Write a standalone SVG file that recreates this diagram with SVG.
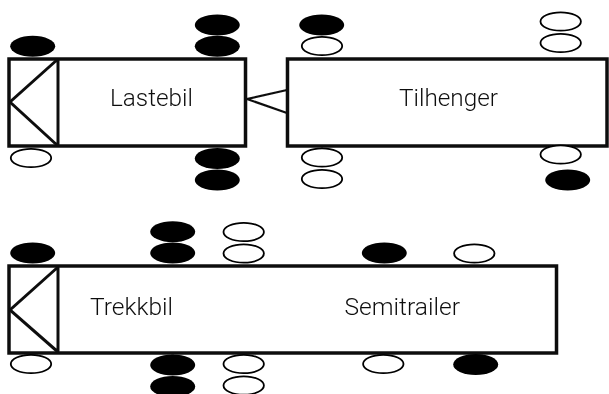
<svg xmlns="http://www.w3.org/2000/svg" width="609" height="394" viewBox="0 0 609 394">
<style>
.body{fill:#fff;stroke:#111;stroke-width:3.5}
.line{fill:none;stroke:#111;stroke-width:3}
.on{fill:#000;stroke:none}
.off{fill:#fff;stroke:#000;stroke-width:1.8}
.node,#connectors{filter:url(#soft)}
text{font-family:"Roboto","Liberation Sans",sans-serif;font-weight:300;font-size:24px;fill:#111}
</style>
<defs><filter id="soft" x="-5%" y="-5%" width="110%" height="110%"><feGaussianBlur stdDeviation="0.4"/></filter></defs>
<rect width="609" height="394" fill="#fff"/>
<g id="connectors">
<path class="line" style="stroke-width:2.2" d="M287 90 L247 99 L287 113"/>
</g>
<g id="lastebil" class="node">
<rect class="body" x="9" y="59" width="236.5" height="87"/>
<path class="line" d="M58 59 V146 M58 59 L10 102 L58 146"/>
<ellipse class="on" cx="32.7" cy="46.3" rx="22.5" ry="10.5"/>
<ellipse class="on" cx="217.3" cy="25" rx="22.5" ry="10.5"/>
<ellipse class="on" cx="217.3" cy="46.3" rx="22.5" ry="10.5"/>
<ellipse class="on" cx="217.3" cy="158.5" rx="22.5" ry="10.5"/>
<ellipse class="on" cx="217.3" cy="180" rx="22.5" ry="10.5"/>
<ellipse class="off" cx="31" cy="158" rx="20.2" ry="9.2"/>
<text x="110" y="106" textLength="83" lengthAdjust="spacingAndGlyphs">Lastebil</text>
</g>
<g id="tilhenger" class="node">
<rect class="body" x="287.5" y="59" width="319.5" height="87"/>
<ellipse class="on" cx="321.7" cy="25" rx="22.5" ry="10.5"/>
<ellipse class="off" cx="322" cy="46" rx="20.2" ry="9.2"/>
<ellipse class="off" cx="322" cy="157.5" rx="20.2" ry="9.2"/>
<ellipse class="off" cx="322" cy="179" rx="20.2" ry="9.2"/>
<ellipse class="off" cx="560.7" cy="21.5" rx="20.2" ry="9.2"/>
<ellipse class="off" cx="560.7" cy="43" rx="20.2" ry="9.2"/>
<ellipse class="off" cx="560.7" cy="154.5" rx="20.2" ry="9.2"/>
<ellipse class="on" cx="567.7" cy="180" rx="22.5" ry="10.5"/>
<text x="399" y="106" textLength="99" lengthAdjust="spacingAndGlyphs">Tilhenger</text>
</g>
<g id="trekkbil-semitrailer" class="node">
<rect class="body" x="9" y="266" width="547.5" height="87"/>
<path class="line" d="M58 266 V353 M58 267 L10 310 L58 352"/>
<ellipse class="on" cx="32.7" cy="253" rx="22.5" ry="10.5"/>
<ellipse class="on" cx="172.7" cy="231.7" rx="22.5" ry="10.5"/>
<ellipse class="on" cx="172.7" cy="253" rx="22.5" ry="10.5"/>
<ellipse class="on" cx="172.7" cy="365" rx="22.5" ry="10.5"/>
<ellipse class="on" cx="172.7" cy="386.5" rx="22.5" ry="10.5"/>
<ellipse class="off" cx="31" cy="364" rx="20.2" ry="9.2"/>
<ellipse class="off" cx="243.7" cy="232" rx="20.2" ry="9.2"/>
<ellipse class="off" cx="243.7" cy="253.5" rx="20.2" ry="9.2"/>
<ellipse class="off" cx="243.7" cy="364" rx="20.2" ry="9.2"/>
<ellipse class="off" cx="243.7" cy="385.5" rx="20.2" ry="9.2"/>
<ellipse class="on" cx="384.3" cy="253" rx="22.5" ry="10.5"/>
<ellipse class="off" cx="474.3" cy="253.5" rx="20.2" ry="9.2"/>
<ellipse class="off" cx="383.3" cy="364" rx="20.2" ry="9.2"/>
<ellipse class="on" cx="475.7" cy="364.5" rx="22.5" ry="10.5"/>
<text x="90" y="315" textLength="83" lengthAdjust="spacingAndGlyphs">Trekkbil</text>
<text x="344.5" y="315" textLength="115.5" lengthAdjust="spacingAndGlyphs">Semitrailer</text>
</g>
</svg>
